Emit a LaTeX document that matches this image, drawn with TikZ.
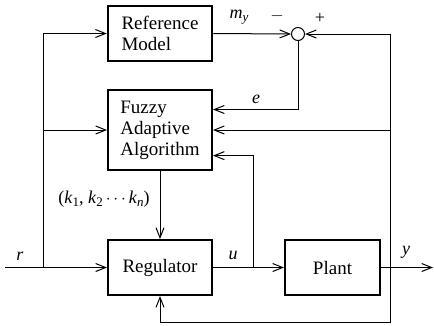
\documentclass[tikz,border=0pt]{standalone}
\usepackage{fontspec}
\setmainfont{Liberation Serif}
\usetikzlibrary{arrows.meta,calc}
\begin{document}
\begin{tikzpicture}[x=1pt,y=-1pt,
  blk/.style={draw,line width=2pt,inner sep=0pt,font=\fontsize{19}{21}\selectfont},
  conn/.style={line width=1pt,-{Straight Barb[length=10pt,width=8pt,line width=1pt]}},
  plain/.style={line width=1pt},
  lbl/.style={font=\fontsize{18}{20}\selectfont\itshape,inner sep=0pt}]
\useasboundingbox (0,0) rectangle (434,325);
\node[blk,minimum width=104pt,minimum height=55pt,align=left,line width=2.5pt] (ref) at (160,33.5) {Reference\\Model};
\node[blk,minimum width=104pt,minimum height=80pt,align=left] (fz) at (160,130) {Fuzzy\\Adaptive\\Algorithm};
\node[blk,minimum width=104pt,minimum height=55pt] (reg) at (160,267.5) {Regulator};
\node[blk,minimum width=95pt,minimum height=55pt] (plant) at (332.5,267.5) {Plant};
\node[draw,circle,line width=1pt,minimum size=13pt,inner sep=0pt] (sum) at (298,34) {};
\coordinate (rin) at (5,267.5);
\coordinate (yout) at (433,267.5);
\coordinate (L) at (43,267.5);
\coordinate (R) at (390,267.5);
\coordinate (U) at (253,267.5);
\coordinate (B) at (390,322);
\coordinate (fzE) at ($(fz.north east)!0.25!(fz.south east)$);
\coordinate (fzU) at ($(fz.north east)!0.8125!(fz.south east)$);
% connectors
\draw[conn] (rin) -- (reg.west);
\draw[conn] (L) |- (ref.west);
\draw[conn] (L |- fz.west) -- (fz.west);
\draw[conn] (ref.east) -- (sum.west);
\draw[conn] (R) |- (sum.east);
\draw[conn] (R |- fz.east) -- (fz.east);
\draw[conn] (sum.south) |- (fzE);
\draw[conn] (reg.east) -- (plant.west);
\draw[conn] (U) |- (fzU);
\draw[conn] (fz.south) -- (reg.north);
\draw[conn] (plant.east) -- (yout);
\draw[conn] (R) -- (B) -| (reg.south);
% labels
\node[lbl] (lr) at (20,256) {r};
\node[lbl] (ly) at (406,252) {y};
\node[lbl] (lu) at (233,255) {u};
\node[lbl] (lm) at (239,17) {m\raisebox{-0.35ex}{\fontsize{13}{14}\selectfont y}};
\node[lbl,font=\fontsize{18}{20}\selectfont] (lminus) at (277,16) {$-$};
\node[lbl,font=\fontsize{18}{20}\selectfont] (lplus) at (320,18) {+};
\node[lbl] (le) at (256,99) {e};
\node[lbl,font=\fontsize{18}{20}\selectfont] (lk) at (104,199) {(\textit{k}\raisebox{-0.35ex}{\fontsize{13}{14}\selectfont 1}, \textit{k}\raisebox{-0.35ex}{\fontsize{13}{14}\selectfont 2}\,$\cdots$\,\textit{k}\raisebox{-0.35ex}{\fontsize{13}{14}\selectfont\itshape n})};
\end{tikzpicture}
\end{document}
